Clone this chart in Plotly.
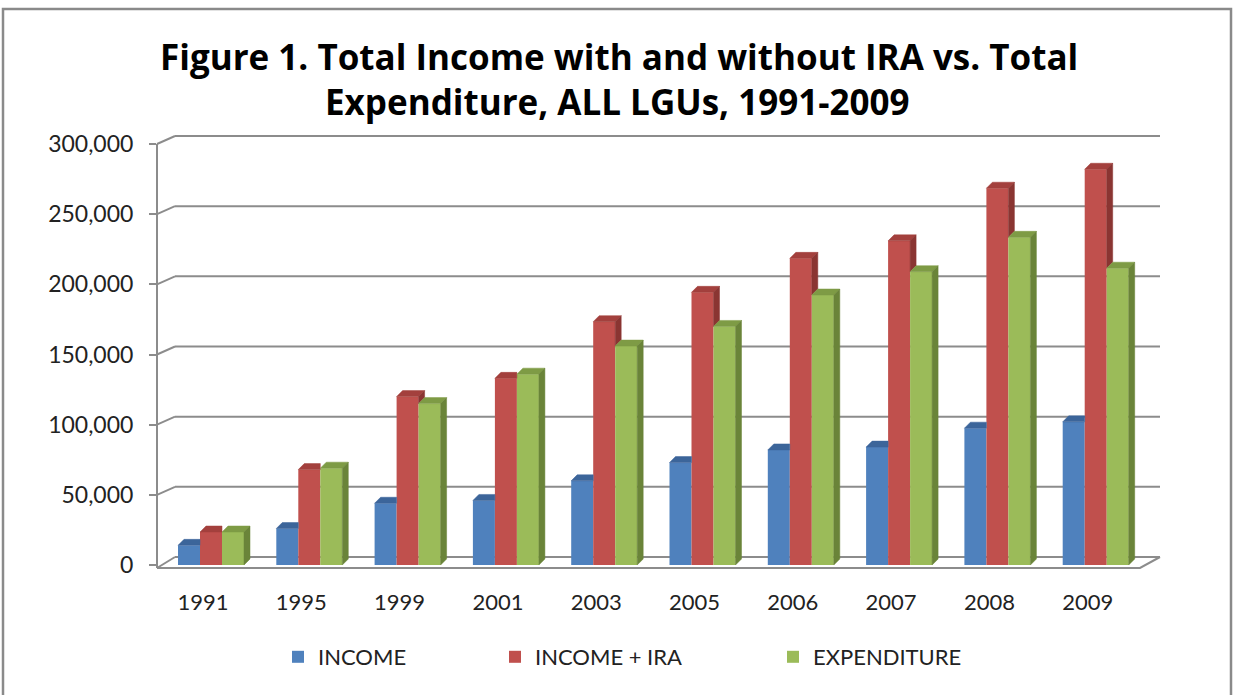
import plotly.graph_objects as go

# ---------------- data ----------------
years = ["1991", "1995", "1999", "2001", "2003", "2005", "2006", "2007", "2008", "2009"]
income = [14000, 26000, 44000, 46000, 60000, 73000, 82000, 84000, 97500, 102000]
income_ira = [23500, 68000, 120000, 133000, 173400, 194300, 218500, 231000, 268500, 282000]
expenditure = [23500, 69000, 115000, 136000, 156000, 170000, 192400, 209000, 233500, 211500]
series_names = ["INCOME", "INCOME + IRA", "EXPENDITURE"]
y_ticks = [0, 50000, 100000, 150000, 200000, 250000, 300000]
title_lines = ["Figure 1. Total Income with and without IRA vs. Total",
               "Expenditure, ALL LGUs, 1991-2009"]

# ---------------- styling / geometry ----------------
W, H = 1234, 695
L, R, T, B = 157, 1160, 144, 565          # plot area in pixels
PX_PER_UNIT_Y = 421 / 300000
CAT0_PX, CAT_STEP = 211, 98.3
front_col = ["#4F81BD", "#C0504D", "#9BBB59"]
top_col = ["#3C659A", "#A3403D", "#7E9B45"]
side_col = ["#375B88", "#8A3532", "#6A8439"]
grid_col = "#8c8c8c"
FONT = "Lato"
TFONT = "Open Sans"

bw = 22 / CAT_STEP                 # bar width (data units)
dx = 6 / CAT_STEP                  # depth offset x
dy = 6 / PX_PER_UNIT_Y             # depth offset y
x_range = [(L - CAT0_PX) / CAT_STEP, (R - CAT0_PX) / CAT_STEP]


def xp(px):
    return (px - L) / (R - L)


def yp(py):
    return (B - py) / (B - T)


series = [income, income_ira, expenditure]
idx = list(range(len(years)))

fig = go.Figure()
legends = ["legend", "legend2", "legend3"]
for k, vals in enumerate(series):
    fig.add_trace(go.Bar(
        x=idx, y=vals, name=series_names[k], width=bw, offset=-1.5 * bw + k * bw,
        marker=dict(color=front_col[k], line=dict(width=0)),
        legend=legends[k], hoverinfo="y+name",
    ))

# 3D faces (top and side) derived from data
for k, vals in enumerate(series):
    tx, ty, sx, sy = [], [], [], []
    for i, h in enumerate(vals):
        x0 = i - 1.5 * bw + k * bw
        x1 = x0 + bw
        hn = series[k + 1][i] if k < 2 else None
        if hn is not None and hn >= h:
            tx += [x0, x0 + dx, x1, x1, x0, None]
            ty += [h, h + dy, h + dy, h, h, None]
        else:
            tx += [x0, x0 + dx, x1 + dx, x1, x0, None]
            ty += [h, h + dy, h + dy, h, h, None]
        if hn is None:
            sx += [x1, x1 + dx, x1 + dx, x1, x1, None]
            sy += [0, dy, h + dy, h, 0, None]
        elif h > hn:
            sx += [x1, x1 + dx, x1 + dx, x1, x1, None]
            sy += [hn, hn + dy, h + dy, h, hn, None]
    for xs, ys, c in ((tx, ty, top_col[k]), (sx, sy, side_col[k])):
        if xs:
            fig.add_trace(go.Scatter(
                x=xs, y=ys, mode="lines", fill="toself", fillcolor=c,
                line=dict(color=c, width=0.5), hoverinfo="skip", showlegend=False,
            ))

# decorative walls / floor / gridlines
shapes = []
for v in y_ticks:
    back_y = 557 - v * PX_PER_UNIT_Y
    front_y = B - v * PX_PER_UNIT_Y
    shapes.append(dict(type="line", xref="paper", yref="paper", x0=xp(175), x1=xp(1160),
                       y0=yp(back_y), y1=yp(back_y), line=dict(color=grid_col, width=2), layer="below"))
    if v > 0:
        shapes.append(dict(type="line", xref="paper", yref="paper", x0=xp(157), x1=xp(175),
                           y0=yp(front_y), y1=yp(back_y), line=dict(color=grid_col, width=2), layer="below"))
shapes.append(dict(type="path", xref="paper", yref="paper",
                   path=f"M{xp(157)},{yp(568)} L{xp(1140)},{yp(568)} L{xp(1160)},{yp(557)}",
                   line=dict(color=grid_col, width=2), layer="below"))
shapes.append(dict(type="line", xref="paper", yref="paper", x0=xp(157), x1=xp(175),
                   y0=yp(568), y1=yp(557), line=dict(color=grid_col, width=2), layer="below"))
shapes.append(dict(type="line", xref="paper", yref="paper", x0=xp(157), x1=xp(157),
                   y0=yp(568), y1=yp(144), line=dict(color=grid_col, width=2), layer="below"))
shapes.append(dict(type="rect", xref="paper", yref="paper", x0=xp(3), x1=xp(1231),
                   y0=yp(705), y1=yp(9), line=dict(color="#8a8a8a", width=2.5), layer="below"))

annotations = [
    dict(text=f"<b>{title_lines[0]}</b>", xref="paper", yref="paper", x=xp(619), y=yp(57),
         xanchor="center", yanchor="middle", showarrow=False,
         font=dict(family=TFONT, size=35, color="#000000")),
    dict(text=f"<b>{title_lines[1]}</b>", xref="paper", yref="paper", x=xp(617), y=yp(101),
         xanchor="center", yanchor="middle", showarrow=False,
         font=dict(family=TFONT, size=35, color="#000000")),
]

label_shift = 8 / CAT_STEP
legend_common = dict(orientation="h", yref="paper", y=yp(657), yanchor="middle",
                     xanchor="left", font=dict(family=FONT, size=22, color="#222222"),
                     bgcolor="rgba(0,0,0,0)", itemclick=False)

fig.update_layout(
    width=W, height=H,
    margin=dict(l=L, r=W - R, t=T, b=H - B, pad=0, autoexpand=False),
    paper_bgcolor="white", plot_bgcolor="rgba(0,0,0,0)",
    barmode="overlay",
    xaxis=dict(
        range=x_range, tickmode="array", tickvals=[i - label_shift for i in idx], ticktext=years,
        showgrid=False, zeroline=False, showline=False, ticks="", automargin=False,
        tickfont=dict(family=FONT, size=22, color="#222222"), ticklabelstandoff=22,
    ),
    yaxis=dict(
        range=[0, 300000], tickmode="array", tickvals=y_ticks, tickformat=",",
        showgrid=False, zeroline=False, showline=False, automargin=False,
        ticks="outside", ticklen=7, tickcolor=grid_col, tickwidth=2,
        tickfont=dict(family=FONT, size=23, color="#222222"), ticklabelstandoff=11,
    ),
    shapes=shapes,
    annotations=annotations,
    legend=dict(x=xp(278), **legend_common),
    legend2=dict(x=xp(495), **legend_common),
    legend3=dict(x=xp(773), **legend_common),
    showlegend=True,
)

fig.write_html("out.html", config={"displayModeBar": False},
               post_script="document.body.style.margin='0px';")
